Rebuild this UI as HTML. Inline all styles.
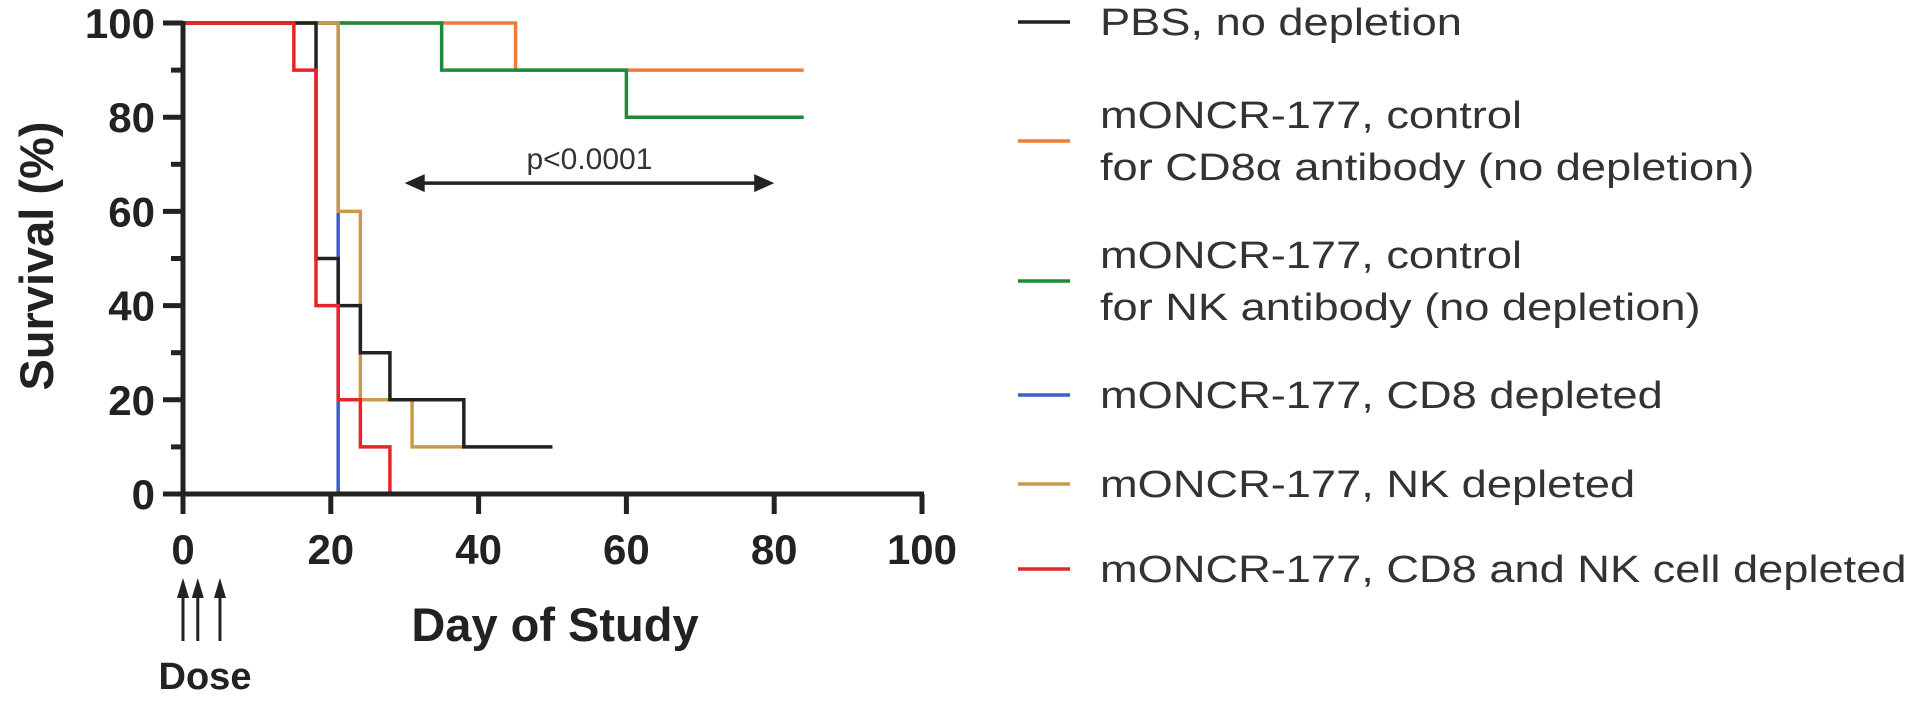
<!DOCTYPE html>
<html><head><meta charset="utf-8"><style>
html,body{margin:0;padding:0;background:#fff;}
svg{display:block;font-family:"Liberation Sans",Arial,sans-serif;}
</style></head><body>
<svg id="chart" width="1913" height="707" viewBox="0 0 1913 707" xmlns="http://www.w3.org/2000/svg">
<g id="series"></g>
<g id="axes"></g>
<g id="annot"></g>
<g id="legend"></g>
</svg>
<script>
const xTicks = [0,20,40,60,80,100];
const yTicks = [0,20,40,60,80,100];
const yMinor = [10,30,50,70,90];
const seriesColors = ["#222222","#f07c3a","#1e8a3e","#3a5fc8","#c9994a","#e8242b"];
const pbsDays = [0,18,21,24,28,38,50];
const pbsSurv = [100,50,40,30,20,10,10];
const cd8CtlDays = [0,45,84];
const cd8CtlSurv = [100,90,90];
const nkCtlDays = [0,35,60,84];
const nkCtlSurv = [100,90,80,80];
const cd8DepDays = [0,21];
const cd8DepSurv = [100,0];
const nkDepDays = [0,21,24,31,38];
const nkDepSurv = [100,60,20,10,10];
const bothDepDays = [0,15,18,21,24,28];
const bothDepSurv = [100,90,40,20,10,0];
const pRange = [30,80];
const pLevel = [66];
const doseDays = [0,2,5];

const NS="http://www.w3.org/2000/svg";
const X0=183, X1=922, Y0=494, Y1=23;
const xs=d=>X0+(d/100)*(X1-X0);
const ys=v=>Y0-(v/100)*(Y0-Y1);
function mk(tag,attrs,parent,text){const e=document.createElementNS(NS,tag);for(const k in attrs)e.setAttribute(k,attrs[k]);if(text!==undefined)e.textContent=text;parent.appendChild(e);return e;}
const axes=document.getElementById('axes');
const ser=document.getElementById('series');
const allDays=[pbsDays,cd8CtlDays,nkCtlDays,cd8DepDays,nkDepDays,bothDepDays];
const allSurv=[pbsSurv,cd8CtlSurv,nkCtlSurv,cd8DepSurv,nkDepSurv,bothDepSurv];
const order=[3,1,2,4,0,5];
const slugs=["pbs","cd8-control","nk-control","cd8-depleted","nk-depleted","cd8-nk-depleted"];
order.forEach(i=>{
  const D=allDays[i],S=allSurv[i];
  let d="M"+xs(D[0])+","+ys(S[0]);
  for(let k=1;k<D.length;k++){d+=" H"+xs(D[k])+" V"+ys(S[k]);}
  const p=mk('path',{d:d,fill:'none',stroke:seriesColors[i],'stroke-width':3.5},ser);
  
  
});
let a=mk('line',{x1:X0,y1:Y1-2,x2:X0,y2:Y0+20,stroke:'#222','stroke-width':5},axes);


a=mk('line',{x1:X0-20,y1:Y0,x2:X1+2,y2:Y0,stroke:'#222','stroke-width':5},axes);


yTicks.forEach(v=>{
  const t=mk('line',{x1:X0-20,y1:ys(v),x2:X0,y2:ys(v),stroke:'#222','stroke-width':5},axes);
  
  
  const l=mk('text',{x:X0-28,y:ys(v)+15,'text-anchor':'end','font-size':42,'font-weight':'bold',fill:'#222'},axes,String(v));
  
  
});
yMinor.forEach(v=>{
  const t=mk('line',{x1:X0-12,y1:ys(v),x2:X0,y2:ys(v),stroke:'#222','stroke-width':5},axes);
  
  
});
xTicks.forEach(v=>{
  const t=mk('line',{x1:xs(v),y1:Y0,x2:xs(v),y2:Y0+20,stroke:'#222','stroke-width':5},axes);
  
  
  const l=mk('text',{x:xs(v),y:564,'text-anchor':'middle','font-size':42,'font-weight':'bold',fill:'#222'},axes,String(v));
  
  
});
let yt=mk('text',{x:0,y:0,transform:'translate(53,256) rotate(-90)','text-anchor':'middle','font-size':47,'font-weight':'bold',fill:'#222'},axes,'Survival (%)');


let xt=mk('text',{x:555,y:641,'text-anchor':'middle','font-size':47,'font-weight':'bold',fill:'#222'},axes,'Day of Study');


const an=document.getElementById('annot');
const py=ys(pLevel[0]);
let pl=mk('line',{x1:xs(pRange[0])+14,y1:py,x2:xs(pRange[1])-14,y2:py,stroke:'#222','stroke-width':3.5},an);


let h1=mk('polygon',{points:`${xs(pRange[0])},${py} ${xs(pRange[0])+20},${py-9} ${xs(pRange[0])+20},${py+9}`,fill:'#222'},an);


let h2=mk('polygon',{points:`${xs(pRange[1])},${py} ${xs(pRange[1])-20},${py-9} ${xs(pRange[1])-20},${py+9}`,fill:'#222'},an);


let pt=mk('text',{x:(xs(pRange[0])+xs(pRange[1]))/2,y:py-14,'text-anchor':'middle','font-size':30,fill:'#333'},an,'p<0.0001');


doseDays.forEach(d=>{
  const x=xs(d);
  const l=mk('line',{x1:x,y1:641,x2:x,y2:590,stroke:'#222','stroke-width':3},an);
  
  
  const h=mk('polygon',{points:`${x},578 ${x-6},598 ${x+6},598`,fill:'#222'},an);
  
  
});
let dt=mk('text',{x:205,y:689,'text-anchor':'middle','font-size':38,'font-weight':'bold',fill:'#222'},an,'Dose');


const lg=document.getElementById('legend');
const legLines=[["PBS, no depletion"],["mONCR-177, control","for CD8α antibody (no depletion)"],["mONCR-177, control","for NK antibody (no depletion)"],["mONCR-177, CD8 depleted"],["mONCR-177, NK depleted"],["mONCR-177, CD8 and NK cell depleted"]];
const legY=[22,115,255,395,484,569];
legLines.forEach((lines,i)=>{
  const g=mk('g',{},lg);
  
  
  const sy=legY[i]+(lines.length-1)*26;
  const sw=mk('line',{x1:1018,y1:sy,x2:1070,y2:sy,stroke:seriesColors[i],'stroke-width':3.5},g);
  
  
  lines.forEach((s,k)=>{
    const t=mk('text',{x:0,y:0,transform:`translate(1100,${legY[i]+13+k*52}) scale(1.19,1)`,'font-size':38,fill:'#333'},g,s);
    
    
  });
});
</script>
</body></html>
